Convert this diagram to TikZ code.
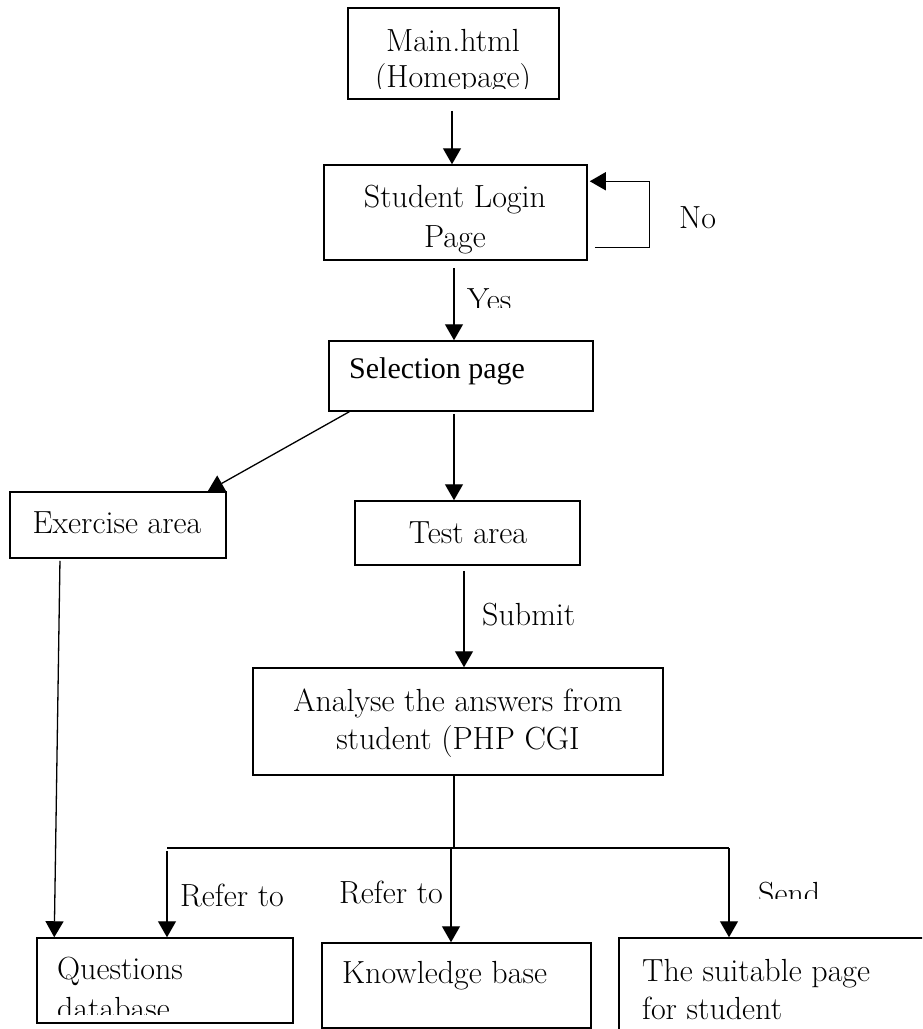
\documentclass[tikz,border=0pt]{standalone}
\usepackage{fontspec}
\newfontfamily\timesfont{Liberation Serif}
\usetikzlibrary{arrows.meta,calc}
\begin{document}
\begin{tikzpicture}[x=1pt,y=-1pt,
  box/.style={draw, rectangle, line width=1.5pt, inner sep=0pt},
  lbl/.style={inner sep=0pt, font=\fontsize{32}{38}\selectfont},
  arr/.style={line width=1.3pt, -{Triangle[length=16pt,width=18pt]}},
  ln/.style={line width=1.3pt}]
\clip (0,0) rectangle (922,1029);
\fill[white] (0,0) rectangle (922,1029);

% boxes
\node[box, minimum width=211pt, minimum height=91pt]  (main)  at (453.5,53.5) {};
\node[box, minimum width=263pt, minimum height=95pt]  (login) at (455.5,212.5) {};
\node[box, minimum width=264pt, minimum height=70pt]  (sel)   at (461,376) {};
\node[box, minimum width=216pt, minimum height=66pt]  (exer)  at (118,525) {};
\node[box, minimum width=225pt, minimum height=64pt]  (test)  at (467.5,533) {};
\node[box, minimum width=410pt, minimum height=107pt] (anal)  at (458,721.5) {};
\node[box, minimum width=256pt, minimum height=85pt]  (ques)  at (165,980.5) {};
\node[box, minimum width=269pt, minimum height=85pt]  (know)  at (456.5,985.5) {};
\node[box, minimum width=330pt, minimum height=120pt] (suit)  at (784,998) {};

% box texts (a multi-line node sits on the baseline of its last line)
\begin{scope}
  \clip (340,0) rectangle (570,88.5);
  \node[lbl, align=center, anchor=base, font=\fontsize{32}{36}\selectfont] (mainT) at (453,87) {Main.html\\(Homepage)};
\end{scope}
\node[lbl, align=center, anchor=base, font=\fontsize{32}{40}\selectfont] (loginT) at (455,247) {Student Login\\Page};
\node[lbl, anchor=base west, font=\timesfont\fontsize{30}{36}\selectfont] (selT) at (349,378) {Selection page};
\node[lbl, anchor=base] (exerT) at (117,533) {Exercise area};
\node[lbl, anchor=base] (testT) at (468,543) {Test area};
\node[lbl, align=center, anchor=base] (analT) at (458,749) {Analyse the answers from\\student (PHP CGI};
\begin{scope}
  \clip (40,940) rectangle (290,1014);
  \node[lbl, align=left, anchor=base west, font=\fontsize{32}{40}\selectfont] (quesT) at (57,1019) {Questions\\database};
\end{scope}
\node[lbl, anchor=base west] (knowT) at (342,983) {Knowledge base};
\node[lbl, align=left, anchor=base west] (suitT) at (642,1019) {The suitable page\\for student};

% connector labels
\node[lbl, anchor=base west] (no) at (679,228) {No};
\begin{scope}
  \clip (460,270) rectangle (540,307);
  \node[lbl, anchor=base west] (yes) at (467,310) {Yes};
\end{scope}
\node[lbl, anchor=base west] (submit) at (482,625) {Submit};
\node[lbl, anchor=base west] (refer1) at (180,906) {Refer to};
\node[lbl, anchor=base west] (refer2) at (339,903) {Refer to};
\begin{scope}
  \clip (740,860) rectangle (850,898.5);
  \node[lbl, anchor=base west] (send) at (758,904) {Send};
\end{scope}

% connectors
\draw[arr, shorten <=11pt] ([xshift=-1.5pt]main.south) -- ([xshift=-1.5pt]main.south |- login.north);
\draw[arr] ($(login.south east)+(7,-13)$) -| ($(login.north east)+(62,17)$) -- ($(login.north east)+(2,17)$);
\draw[arr, shorten <=7pt] ([xshift=-1.5pt]login.south) -- ([xshift=-1.5pt]login.south |- sel.north);
\draw[arr, shorten <=2pt] ([xshift=-7pt]sel.south) -- ([xshift=-7pt]sel.south |- test.north);
\draw[arr] ([xshift=21pt]sel.south west) -- ([xshift=-19pt]exer.north east);
\draw[arr, shorten <=2pt] ([xshift=-58pt]exer.south) -- ([xshift=18pt]ques.north west);
\draw[arr, shorten <=5pt] ([xshift=-3.5pt]test.south) -- ([xshift=-3.5pt]test.south |- anal.north);

\coordinate (bus)  at (454,848);
\coordinate (busL) at (167,848);
\coordinate (busM) at (451,848);
\coordinate (busR) at (729,848);
\draw[ln] (bus |- anal.south) -- (bus);
\draw[ln] (busL) -- (busR);
\draw[arr, shorten <=3pt] (busL) -- (busL |- ques.north);
\draw[arr] (busM) -- (busM |- know.north);
\draw[arr] (busR) -- (busR |- suit.north);
\end{tikzpicture}
\end{document}
